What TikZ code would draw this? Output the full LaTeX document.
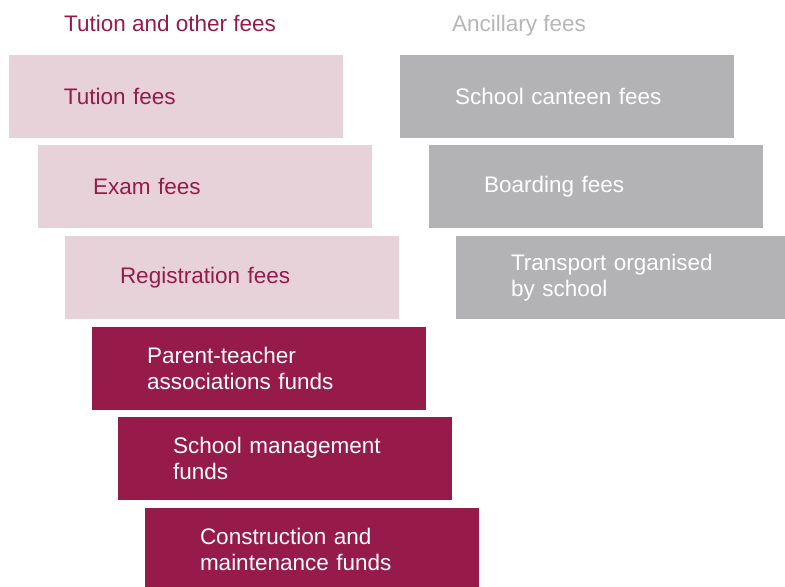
\documentclass[tikz,border=0pt]{standalone}
\usepackage{fontspec}
\setmainfont{Liberation Sans}
\usepackage{tikz}
\definecolor{feedark}{RGB}{150,26,74}
\definecolor{feelight}{RGB}{232,210,218}
\definecolor{feegrey}{RGB}{179,179,181}
\definecolor{feeheadgrey}{RGB}{182,182,184}
\pgfkeys{tikz/myfee/.style={rectangle,
                              minimum width=334bp,
                              minimum height=83bp,
                              text width=224bp,
                              inner xsep=55bp,
                              inner ysep=0pt,
                              align=left,
                              font=\fontsize{22.5bp}{26bp}\selectfont}}
\pgfkeys{tikz/mylightfee/.style={myfee, fill=feelight, text=feedark}}
\pgfkeys{tikz/mydarkfee/.style={myfee, fill=feedark, text=white}}
\pgfkeys{tikz/mygreyfee/.style={myfee, fill=feegrey, text=white}}
\pgfkeys{tikz/myhead/.style={anchor=base west, inner sep=0pt,
                             font=\fontsize{22.5bp}{26bp}\selectfont}}

\begin{document}
\begin{tikzpicture}[x=1bp, y=1bp]
                \useasboundingbox (0,0) rectangle (785,-587);

                \node[myhead, text=feedark] (lefthead) at (64, -32) {Tution and other fees};
                \node[myhead, text=feeheadgrey] (righthead) at (452, -32) {Ancillary fees};

                \node[mylightfee] (tution) at (176, -96.5) {Tution fees};
                \node[mylightfee] (exam) at (205, -186.5) {Exam fees};
                \node[mylightfee] (registration) at (232, -277.5) {Registration fees};

                \node[mydarkfee] (pta) at (259, -368.5) {Parent-teacher\\associations funds};
                \node[mydarkfee] (management) at (285, -458.5) {School management\\funds};
                \node[mydarkfee] (construction) at (312, -549.5) {Construction and\\maintenance funds};

                \node[mygreyfee] (canteen) at (567, -96.5) {School canteen fees};
                \node[mygreyfee] (boarding) at (596, -186.5) {Boarding fees};
                \node[mygreyfee] (transport) at (623, -277.5) {Transport organised\\by school};

            \end{tikzpicture}
\end{document}
